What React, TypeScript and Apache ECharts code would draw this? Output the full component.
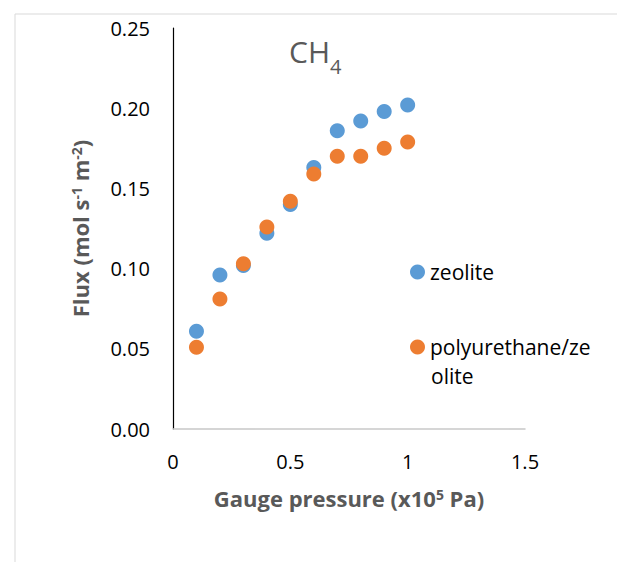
import React, { useEffect, useRef } from "react";
import * as echarts from "echarts";

const pressure = [0.1, 0.2, 0.3, 0.4, 0.5, 0.6, 0.7, 0.8, 0.9, 1.0];
const zeolite = [0.061, 0.096, 0.102, 0.122, 0.14, 0.163, 0.186, 0.192, 0.198, 0.202];
const polyurethane = [0.051, 0.081, 0.103, 0.126, 0.142, 0.159, 0.17, 0.17, 0.175, 0.179];
const seriesNames = ["zeolite", "polyurethane/zeolite"];
const legendLines = ["polyurethane/ze", "olite"];

const FONT = "'Open Sans', sans-serif";

export default function App() {
  const ref = useRef<HTMLDivElement>(null);
  useEffect(() => {
    document.body.style.margin = "0";
    const chart = echarts.init(ref.current!, null, { renderer: "svg" });
    chart.setOption({
      animation: false,
      backgroundColor: "#ffffff",
      textStyle: { fontFamily: FONT },
      title: {
        text: "{a|CH}{b|4}",
        left: 289,
        top: 36,
        padding: 0,
        textStyle: {
          fontWeight: "normal",
          rich: {
            a: { fontSize: 30, fontWeight: "normal", lineHeight: 34, color: "#595959", fontFamily: FONT, verticalAlign: "top" },
            b: { fontSize: 20, fontWeight: "normal", lineHeight: 20, padding: [20, 0, 0, 0], color: "#595959", fontFamily: FONT, verticalAlign: "top" },
          },
        },
      },
      grid: { left: 173, right: 92, top: 28, bottom: 133, containLabel: false },
      xAxis: {
        type: "value",
        min: 0,
        max: 1.5,
        interval: 0.5,
        axisLine: { show: true, onZero: false, lineStyle: { color: "#c8c8c8", width: 1.5 } },
        axisTick: { show: false },
        splitLine: { show: false },
        axisLabel: { color: "#000", fontSize: 20, fontFamily: FONT, margin: 22 },
        name: "{b|Gauge pressure (x10}{s|5}{b| Pa)}",
        nameLocation: "middle",
        nameGap: 58,
        nameTextStyle: {
          rich: {
            b: { fontSize: 22, fontWeight: "bold", color: "#595959", fontFamily: FONT, lineHeight: 26, verticalAlign: "top" },
            s: { fontSize: 14, fontWeight: "bold", color: "#595959", fontFamily: FONT, lineHeight: 16, verticalAlign: "top" },
          },
        },
      },
      yAxis: {
        type: "value",
        min: 0,
        max: 0.25,
        interval: 0.05,
        axisLine: { show: true, onZero: false, lineStyle: { color: "#000", width: 1.2 } },
        axisTick: { show: false },
        splitLine: { show: false },
        axisLabel: {
          color: "#000",
          fontSize: 20,
          fontFamily: FONT,
          margin: 23,
          formatter: (v: number) => v.toFixed(2),
        },
        name: "{b|Flux (mol s}{s|-1}{b| m}{s|-2}{b|)}",
        nameLocation: "middle",
        nameGap: 78,
        nameTextStyle: {
          rich: {
            b: { fontSize: 22, fontWeight: "bold", color: "#595959", fontFamily: FONT, lineHeight: 26, verticalAlign: "top" },
            s: { fontSize: 14, fontWeight: "bold", color: "#595959", fontFamily: FONT, lineHeight: 16, verticalAlign: "top" },
          },
        },
      },
      legend: [
        {
          data: [seriesNames[0]],
          left: 410,
          top: 259,
          padding: 0,
          icon: "circle",
          itemWidth: 15,
          itemHeight: 15,
          itemGap: 0,
          itemStyle: { opacity: 1 },
          textStyle: { color: "#000", fontSize: 21, lineHeight: 26, fontFamily: FONT },
        },
        {
          data: [seriesNames[1]],
          left: 410,
          top: 334,
          padding: 0,
          icon: "circle",
          itemWidth: 15,
          itemHeight: 15,
          itemGap: 0,
          itemStyle: { opacity: 1 },
          formatter: () => legendLines[0],
          textStyle: { color: "#000", fontSize: 21, lineHeight: 26, fontFamily: FONT },
        },
      ],
      graphic: [
        {
          type: "rect",
          left: 12.5,
          top: 11.5,
          shape: { width: 1000, height: 1000 },
          style: { fill: "none", stroke: "#d9d9d9", lineWidth: 1 },
          silent: true,
        },
        {
          type: "text",
          x: 431,
          y: 376,
          style: {
            text: legendLines[1],
            fontSize: 21,
            fontFamily: FONT,
            fill: "#000",
            textVerticalAlign: "middle",
            verticalAlign: "middle",
          },
          silent: true,
        },
      ],
      series: [
        {
          name: seriesNames[0],
          type: "scatter",
          symbol: "circle",
          symbolSize: 15,
          itemStyle: { color: "#5B9BD5", opacity: 1 },
          data: pressure.map((p, i) => [p, zeolite[i]]),
        },
        {
          name: seriesNames[1],
          type: "scatter",
          symbol: "circle",
          symbolSize: 15,
          itemStyle: { color: "#ED7D31", opacity: 1 },
          data: pressure.map((p, i) => [p, polyurethane[i]]),
        },
      ],
    });
    return () => chart.dispose();
  }, []);
  return <div ref={ref} style={{ width: 617, height: 562 }} />;
}
